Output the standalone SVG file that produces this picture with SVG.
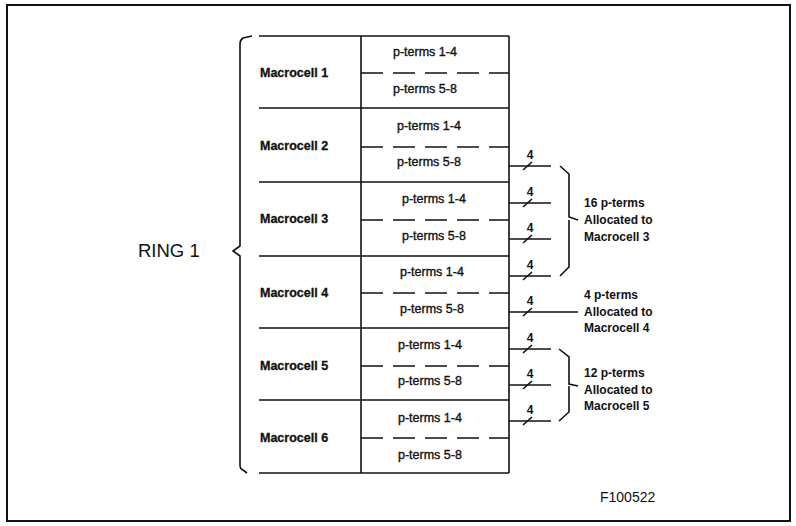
<svg xmlns="http://www.w3.org/2000/svg" width="796" height="526" viewBox="0 0 796 526">
<style>
.ln{stroke:#111;stroke-width:1.6;fill:none}
.dash{stroke:#111;stroke-width:1.6;fill:none;stroke-dasharray:22 10}
.mc{font-family:"Liberation Sans",Arial,sans-serif;font-size:12.5px;font-weight:bold;fill:#111;stroke:#111;stroke-width:0.3}
.pt{font-family:"Liberation Sans",Arial,sans-serif;font-size:12.5px;fill:#111;stroke:#111;stroke-width:0.35}
.lb{font-family:"Liberation Sans",Arial,sans-serif;font-size:12px;font-weight:bold;fill:#111}
.four{font-family:"Liberation Sans",Arial,sans-serif;font-size:12px;font-weight:bold;fill:#111;text-anchor:middle}
</style>
<rect x="0" y="0" width="796" height="526" fill="#fff"/>
<rect x="7" y="5" width="783" height="516" fill="none" stroke="#111" stroke-width="2"/>

<g id="ring-label">
<text x="138" y="257" font-family="Liberation Sans,Arial,sans-serif" font-size="18.5" fill="#111">RING 1</text>
<path class="ln" d="M252,36 L243,38 Q240,40 240,44 L240,246 L233,251 L240,256 L240,465 Q240,469 243,470 L247,473"/>
</g>

<g id="table">
<line class="ln" x1="361" y1="36" x2="361" y2="473"/>
<line class="ln" x1="509" y1="36" x2="509" y2="473"/>
<line class="ln" x1="259" y1="36" x2="509" y2="36"/>
<line class="ln" x1="259" y1="108" x2="509" y2="108"/>
<line class="ln" x1="259" y1="182" x2="509" y2="182"/>
<line class="ln" x1="259" y1="256" x2="509" y2="256"/>
<line class="ln" x1="259" y1="328" x2="509" y2="328"/>
<line class="ln" x1="259" y1="400" x2="509" y2="400"/>
<line class="ln" x1="259" y1="473" x2="509" y2="473"/>
</g>

<g id="macrocell1">
<text class="mc" x="260" y="77">Macrocell 1</text>
<line class="dash" x1="361" y1="73" x2="509" y2="73"/>
<text class="pt" x="393" y="56">p-terms 1-4</text>
<text class="pt" x="393" y="93">p-terms 5-8</text>
</g>
<g id="macrocell2">
<text class="mc" x="260" y="150">Macrocell 2</text>
<line class="dash" x1="361" y1="147" x2="509" y2="147"/>
<text class="pt" x="397" y="130">p-terms 1-4</text>
<text class="pt" x="397" y="166">p-terms 5-8</text>
</g>
<g id="macrocell3">
<text class="mc" x="260" y="223">Macrocell 3</text>
<line class="dash" x1="361" y1="220" x2="509" y2="220"/>
<text class="pt" x="402" y="203">p-terms 1-4</text>
<text class="pt" x="402" y="240">p-terms 5-8</text>
</g>
<g id="macrocell4">
<text class="mc" x="260" y="297">Macrocell 4</text>
<line class="dash" x1="361" y1="293" x2="509" y2="293"/>
<text class="pt" x="400" y="276">p-terms 1-4</text>
<text class="pt" x="400" y="313">p-terms 5-8</text>
</g>
<g id="macrocell5">
<text class="mc" x="260" y="370">Macrocell 5</text>
<line class="dash" x1="361" y1="366" x2="509" y2="366"/>
<text class="pt" x="398" y="349">p-terms 1-4</text>
<text class="pt" x="398" y="385">p-terms 5-8</text>
</g>
<g id="macrocell6">
<text class="mc" x="260" y="442">Macrocell 6</text>
<line class="dash" x1="361" y1="438" x2="509" y2="438"/>
<text class="pt" x="398" y="422">p-terms 1-4</text>
<text class="pt" x="398" y="459">p-terms 5-8</text>
</g>

<g id="connectors">
<line class="ln" x1="509" y1="166" x2="551" y2="166"/>
<line class="ln" x1="509" y1="203" x2="551" y2="203"/>
<line class="ln" x1="509" y1="239" x2="551" y2="239"/>
<line class="ln" x1="509" y1="276" x2="551" y2="276"/>
<line class="ln" x1="509" y1="312" x2="578" y2="312"/>
<line class="ln" x1="509" y1="349" x2="551" y2="349"/>
<line class="ln" x1="509" y1="385" x2="551" y2="385"/>
<line class="ln" x1="509" y1="421" x2="551" y2="421"/>
<path class="ln" d="M523,170 L532,162 M523,207 L532,199 M523,243 L532,235 M523,280 L532,272 M523,316 L532,308 M523,353 L532,345 M523,389 L532,381 M523,425 L532,417"/>
<text class="four" x="530" y="159">4</text>
<text class="four" x="530" y="196">4</text>
<text class="four" x="530" y="232">4</text>
<text class="four" x="530" y="269">4</text>
<text class="four" x="530" y="305">4</text>
<text class="four" x="530" y="342">4</text>
<text class="four" x="530" y="378">4</text>
<text class="four" x="530" y="414">4</text>
</g>

<g id="group-mc3">
<path class="ln" d="M560,166 L569,174 L569,217 L578,220 M569,220 L569,267 L560,276"/>
<text class="lb" x="584" y="207">16 p-terms</text>
<text class="lb" x="584" y="224">Allocated to</text>
<text class="lb" x="584" y="241">Macrocell 3</text>
</g>
<g id="group-mc4">
<text class="lb" x="584" y="299">4 p-terms</text>
<text class="lb" x="584" y="316">Allocated to</text>
<text class="lb" x="584" y="332">Macrocell 4</text>
</g>
<g id="group-mc5">
<path class="ln" d="M559,349 L569,357 L569,384 L578,386 M569,386 L569,412 L559,421"/>
<text class="lb" x="584" y="377">12 p-terms</text>
<text class="lb" x="584" y="394">Allocated to</text>
<text class="lb" x="584" y="410">Macrocell 5</text>
</g>

<text x="600" y="502" font-family="Liberation Sans,Arial,sans-serif" font-size="14" fill="#111">F100522</text>
</svg>
